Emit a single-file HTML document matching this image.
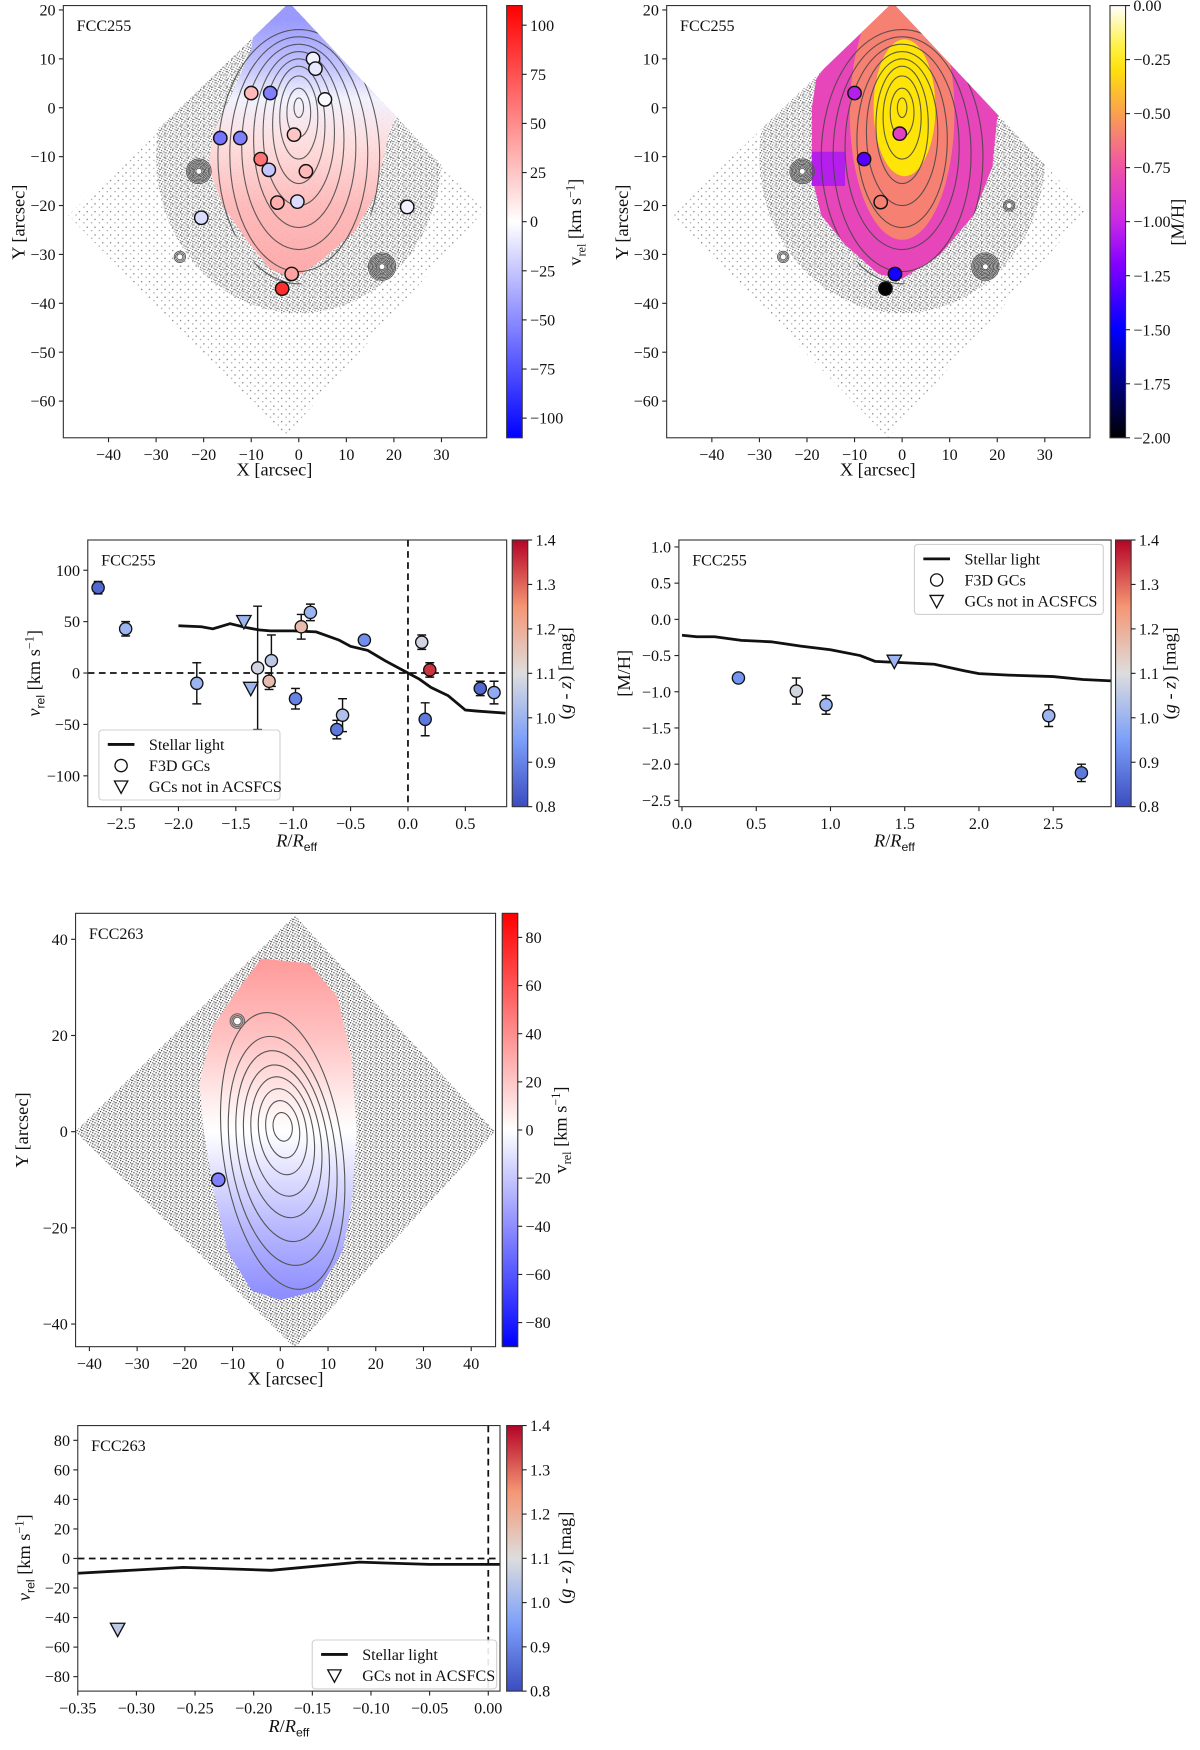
<!DOCTYPE html>
<html><head><meta charset="utf-8"><style>
html,body{margin:0;padding:0;background:#fff;}
svg{display:block;}
text{font-family:"Liberation Serif","DejaVu Serif",serif;fill:#111;}
</style></head><body>
<svg id="fig" xmlns="http://www.w3.org/2000/svg" width="1200" height="1750" viewBox="0 0 1080 1575">
<defs>
<pattern id="dotsLight" patternUnits="userSpaceOnUse" width="7" height="7">
<rect x="1" y="1" width="1" height="1" fill="#555"/><rect x="5" y="4" width="1" height="1" fill="#888"/>
</pattern>
<pattern id="dotsDark" patternUnits="userSpaceOnUse" width="5" height="5">
<rect x="0" y="0" width="1" height="1" fill="#222"/><rect x="2" y="1" width="1" height="1" fill="#444"/><rect x="4" y="2" width="1" height="1" fill="#333"/><rect x="1" y="3" width="1" height="1" fill="#555"/><rect x="3" y="4" width="1" height="1" fill="#222"/><rect x="3" y="2" width="1" height="1" fill="#666"/>
</pattern>
</defs>
</svg>
<script>
// ---------------- DATA ----------------
const mapXTicks=[-40,-30,-20,-10,0,10,20,30];
const mapYTicks=[20,10,0,-10,-20,-30,-40,-50,-60];
const p1CbarTicks=[100,75,50,25,0,-25,-50,-75,-100];
const p2CbarTicks=[0,-0.25,-0.5,-0.75,-1,-1.25,-1.5,-1.75,-2];
const p1GcX=[3,3.5,-10,-6,5.5,-1,-16.5,-12.3,-8,-6.3,1.5,-4.5,-0.3,-20.5,22.8,-1.5,-3.5];
const p1GcY=[10,8,3,3,1.7,-5.5,-6.2,-6.2,-10.5,-12.7,-13,-19.4,-19.2,-22.5,-20.3,-34,-37];
const p1GcV=[-5,-10,30,-55,-2,25,-60,-55,60,-25,30,35,-15,-15,-5,40,90];
const p2GcX=[-10,-0.5,-8,-4.5,-1.5,-3.5];
const p2GcY=[3,-5.3,-10.5,-19.3,-34,-37];
const p2GcM=[-1.05,-0.85,-1.3,-0.6,-1.45,-2.0];
const p3XTicks=[-2.5,-2,-1.5,-1,-0.5,0,0.5];
const p3YTicks=[100,50,0,-50,-100];
const gzTicks=[1.4,1.3,1.2,1.1,1.0,0.9,0.8];
const p3R=[-2.7,-2.46,-1.84,-1.31,-1.19,-1.21,-0.93,-0.85,-0.98,-0.62,-0.57,-0.38,0.12,0.19,0.15,0.63,0.75];
const p3V=[83,43,-10,5,12,-8,45,59,-25,-55,-41,32,30,3,-45,-15,-19];
const p3Err=[6,7,20,60,25,8,12,8,10,9,16,3,7,7,16,7,11];
const p3Col=[0.85,1.0,1.0,1.08,1.05,1.17,1.17,1.0,0.9,0.88,1.03,0.92,1.08,1.35,0.88,0.85,0.98];
const p3TriR=[-1.43,-1.37];
const p3TriV=[50,-15];
const p3TriCol=[1.0,1.0];
const p3LineR=[-2,-1.8,-1.7,-1.55,-1.4,-1.3,-1.2,-1.0,-0.8,-0.6,-0.5,-0.35,-0.2,0,0.1,0.2,0.35,0.5,0.6,0.85];
const p3LineV=[46,45,43,48,44,42,41,41,40,32,26,22,12,0,-6,-14,-22,-36,-37,-39];
const p4XTicks=[0,0.5,1,1.5,2,2.5];
const p4YTicks=[1,0.5,0,-0.5,-1,-1.5,-2,-2.5];
const p4R=[0.38,0.77,0.97,2.47,2.69];
const p4M=[-0.81,-0.99,-1.18,-1.33,-2.12];
const p4Err=[0.02,0.18,0.13,0.15,0.12];
const p4Col=[0.93,1.08,1.0,1.0,0.88];
const p4TriR=[1.43];
const p4TriM=[-0.58];
const p4TriCol=[1.0];
const p4LineR=[0,0.1,0.22,0.4,0.6,0.8,1.0,1.2,1.3,1.5,1.7,1.9,2.0,2.2,2.5,2.7,2.9];
const p4LineM=[-0.22,-0.24,-0.24,-0.29,-0.31,-0.37,-0.42,-0.5,-0.58,-0.6,-0.62,-0.71,-0.75,-0.77,-0.79,-0.83,-0.85];
const p5XTicks=[-40,-30,-20,-10,0,10,20,30,40];
const p5YTicks=[40,20,0,-20,-40];
const p5CbarTicks=[80,60,40,20,0,-20,-40,-60,-80];
const p5GcX=[-13];
const p5GcY=[-10];
const p5GcV=[-45];
const p6XTicks=[-0.35,-0.3,-0.25,-0.2,-0.15,-0.1,-0.05,0];
const p6YTicks=[80,60,40,20,0,-20,-40,-60,-80];
const p6LineR=[-0.35,-0.26,-0.185,-0.11,-0.05,0.01];
const p6LineV=[-10,-6,-8,-2.5,-4,-4];
const p6TriR=[-0.316];
const p6TriV=[-48];
const p6TriCol=[1.05];

// ---------------- HELPERS ----------------
const NS='http://www.w3.org/2000/svg';
const svg=document.getElementById('fig');
function el(tag,attrs,parent){const e=document.createElementNS(NS,tag);for(const k in attrs)e.setAttribute(k,attrs[k]);(parent||svg).appendChild(e);return e;}
function lin(d0,d1,r0,r1){return v=>r0+(v-d0)/(d1-d0)*(r1-r0);}
function interp(stops,t){t=Math.max(0,Math.min(1,t));for(let i=1;i<stops.length;i++){if(t<=stops[i][0]){const a=stops[i-1],b=stops[i];const f=(t-a[0])/(b[0]-a[0]||1);return 'rgb('+[1,2,3].map(j=>Math.round(a[j]+(b[j]-a[j])*f)).join(',')+')';}}const l=stops[stops.length-1];return 'rgb('+l[1]+','+l[2]+','+l[3]+')';}
const BWR=[[0,0,0,255],[0.5,255,255,255],[1,255,0,0]];
const COOL=[[0,59,76,192],[0.25,124,159,249],[0.5,221,221,221],[0.75,245,150,116],[1,180,4,38]];
const GNU=[[0,0,0,0],[0.25,0,0,255],[0.4,130,0,255],[0.5,200,40,230],[0.62,240,80,170],[0.75,250,160,80],[0.87,255,235,0],[1,255,255,255]];
const bwr=(v,m)=>interp(BWR,(v+m)/(2*m));
const cool=v=>interp(COOL,(v-0.8)/0.6);
const gnu=v=>interp(GNU,(v+2)/2);
function fmt(v,d){const s=Math.abs(v).toFixed(d);return (v<0?'\u2212':'')+s;}
let clipId=0;

function makeAxes(box,xd,yd,xticks,yticks,xdec,ydec,name){
  const g=el('g',{});
  
  
  const X=lin(xd[0],xd[1],box.l,box.r),Y=lin(yd[0],yd[1],box.b,box.t);
  const id='clip'+(clipId++);
  const cp=el('clipPath',{id:id},g);
  el('rect',{x:box.l,y:box.t,width:box.r-box.l,height:box.b-box.t},cp);
  const plot=el('g',{'clip-path':'url(#'+id+')'},g);
  
  
  const tg=el('g',{},g);
  
  
  xticks.forEach(v=>{const x=X(v);
    const t=el('line',{x1:x,x2:x,y1:box.b,y2:box.b+4,stroke:'#222','stroke-width':1},tg);
    
    
    const tx=el('text',{x:x,y:box.b+20,'font-size':14.5,'text-anchor':'middle'},tg);
    
    
    tx.textContent=fmt(v,xdec);});
  yticks.forEach(v=>{const y=Y(v);
    const t=el('line',{x1:box.l-4,x2:box.l,y1:y,y2:y,stroke:'#222','stroke-width':1},tg);
    
    
    const tx=el('text',{x:box.l-7,y:y+5,'font-size':14.5,'text-anchor':'end'},tg);
    
    
    tx.textContent=fmt(v,ydec);});
  return {g,plot,X,Y,box};
}
function frame(ax){
  const f=el('rect',{x:ax.box.l,y:ax.box.t,width:ax.box.r-ax.box.l,height:ax.box.b-ax.box.t,fill:'none',stroke:'#333','stroke-width':1},ax.g);
  
  
}
function colorbar(x,t,b,vmin,vmax,cmap,ticks,dec,name){
  const g=el('g',{});
  
  
  const gid='grad'+(clipId++);
  const defs=svg.querySelector('defs');
  const lg=el('linearGradient',{id:gid,x1:0,y1:1,x2:0,y2:0},defs);
  for(let i=0;i<=20;i++){const v=vmin+(vmax-vmin)*i/20;el('stop',{offset:i/20,'stop-color':cmap(v)},lg);}
  const r=el('rect',{x:x,y:t,width:14,height:b-t,fill:'url(#'+gid+')',stroke:'#333','stroke-width':1},g);
  
  
  const Y=lin(vmin,vmax,b,t);
  ticks.forEach(v=>{const y=Y(v);
    const l=el('line',{x1:x+14,x2:x+18,y1:y,y2:y,stroke:'#222'},g);
    
    
    const tx=el('text',{x:x+21,y:y+5,'font-size':14.5},g);
    
    
    tx.textContent=fmt(v,dec);});
  return g;
}
function rotLabel(x,y,html,name){
  const t=el('text',{x:0,y:0,'font-size':16.5,'text-anchor':'middle',transform:'translate('+x+','+y+') rotate(-90)'});
  
  
  t.innerHTML=html;return t;
}
function label(x,y,html,name,size){
  const t=el('text',{x:x,y:y,'font-size':size||16.5,'text-anchor':'middle'});
  
  
  t.innerHTML=html;return t;
}
function panelTag(ax,txt){
  const t=el('text',{x:ax.box.l+12,y:ax.box.t+23,'font-size':14.5},ax.g);
  
  
  t.textContent=txt;
}
function poly(ax,pts,attrs,parent){
  const d=pts.map((p,i)=>(i?'L':'M')+ax.X(p[0]).toFixed(1)+','+ax.Y(p[1]).toFixed(1)).join(' ')+'Z';
  return el('path',Object.assign({d:d},attrs),parent||ax.plot);
}
function tri(x,y,s){return 'M'+(x-s)+','+(y-s*0.85)+' L'+(x+s)+','+(y-s*0.85)+' L'+x+','+(y+s)+' Z';}
function errbar(g,x,y1,y2){
  const l=el('line',{x1:x,x2:x,y1:y1,y2:y2,stroke:'#111','stroke-width':1.3},g);
  
  
  [y1,y2].forEach(y=>{const c=el('line',{x1:x-4,x2:x+4,y1:y,y2:y,stroke:'#111','stroke-width':1.3},g);
    
    });
}
function clipGroup(ax,pts,parent,name){
  const id='pc'+(clipId++);
  const cp=el('clipPath',{id:id},ax.g);
  poly(ax,pts,{},cp);
  const g=el('g',{'clip-path':'url(#'+id+')'},parent);
  
  
  return g;
}

// ---------------- MAP PANEL BUILDER ----------------
const diamond255=[[-2,21.5],[39,-21],[-3,-67.5],[-48.5,-22]];
const contourRx=[1,2.5,4,5.5,7.5,9.5,12,14.5,17];
const contourRy=[2,5,8.5,12,15,18,21,24,26];
const contourCy=[0,-1,-2,-3.5,-5,-6.5,-8,-9.5,-10];
const galaxy255=[[-8,25],[25,8],[19,-5],[16,-18],[12,-25],[5,-31],[-1,-35],[-6,-33],[-11,-27],[-16,-20],[-19,-12],[-18,-5],[-14,3],[-10,12]];
const starX=[-21,17.5,22.5,-25],starY=[-13,-32.5,-20,-30.5],starN=[8,9,3,3];

function base255(ax){
  const did='dclip'+(clipId++);
  const cp=el('clipPath',{id:did},ax.g);
  poly(ax,diamond255,{},cp);
  const dg=el('g',{'clip-path':'url(#'+did+')'},ax.plot);
  
  
  const d=poly(ax,diamond255,{fill:'url(#dotsLight)'},dg);
  
  
  const band=el('ellipse',{cx:ax.X(0),cy:ax.Y(-10),rx:ax.X(30)-ax.X(0),ry:ax.Y(-32)-ax.Y(0),fill:'url(#dotsDark)',opacity:0.75},dg);
  
  
  return dg;
}
function contours(ax,dg,cx){
  const cg=clipGroup(ax,[[-8,25],[26,8],[20,-5],[17,-18],[13,-26],[5,-33],[-1,-37],[-7,-35],[-12,-28],[-17,-21],[-20,-12],[-19,-5],[-15,3],[-11,12]],dg,'isophote-contours');
  for(let i=0;i<contourRx.length;i++){
    const e=el('ellipse',{cx:ax.X(cx),cy:ax.Y(contourCy[i]),rx:ax.X(contourRx[i])-ax.X(0),ry:ax.Y(0)-ax.Y(contourRy[i]),fill:'none',stroke:'#444','stroke-width':1,opacity:0.85},cg);
    
    
  }
}
function stars(ax,dg){
  for(let i=0;i<starX.length;i++){
    for(let k=starN[i];k>=1;k--){
      const c=el('circle',{cx:ax.X(starX[i]),cy:ax.Y(starY[i]),r:1.5+k*1.2,fill:k==1?'#fff':'none',stroke:'#555','stroke-width':0.8},dg);
      
      
    }
  }
}
function gcs(ax,xs,ys,cols,name){
  const g=el('g',{},ax.plot);
  
  
  for(let i=0;i<xs.length;i++){
    const c=el('circle',{cx:ax.X(xs[i]),cy:ax.Y(ys[i]),r:6,fill:cols[i],stroke:'#111','stroke-width':1.3},g);
    
    
  }
}
function vgrad(ax,ys,vs,cmap){
  const gid='vg'+(clipId++);
  const lg=el('linearGradient',{id:gid,gradientUnits:'userSpaceOnUse',x1:0,x2:0,y1:ax.Y(ys[0]),y2:ax.Y(ys[ys.length-1])},svg.querySelector('defs'));
  const y0=ax.Y(ys[0]),y1=ax.Y(ys[ys.length-1]);
  for(let i=0;i<ys.length;i++)el('stop',{offset:(ax.Y(ys[i])-y0)/(y1-y0),'stop-color':cmap(vs[i])},lg);
  return 'url(#'+gid+')';
}

// ---------------- PANEL 1 ----------------
const ax1=makeAxes({l:57,r:438,t:5,b:394},[-49.5,39.5],[-67.5,20.9],mapXTicks,mapYTicks,0,0,'fcc255-velocity-map');
{
  const dg=base255(ax1);
  const f=vgrad(ax1,[18,8,2,-8,-20,-35],[-45,-25,-5,15,30,38],v=>bwr(v,110));
  const gp=poly(ax1,galaxy255,{fill:f,opacity:0.95},dg);
  
  
  contours(ax1,dg,0);stars(ax1,dg);
  gcs(ax1,p1GcX,p1GcY,p1GcV.map(v=>bwr(v,110)),'gc-velocity-markers');
  panelTag(ax1,'FCC255');frame(ax1);
}
colorbar(456,5,394,-110,110,v=>bwr(v,110),p1CbarTicks,0,'velocity-colorbar');
rotLabel(523,200,'v<tspan font-size="11" dy="4">rel</tspan><tspan dy="-4"> [km s</tspan><tspan font-size="11" dy="-6">−1</tspan><tspan dy="6">]</tspan>','velocity-colorbar-label');
label(247,428,'X [arcsec]','x-axis-title');
rotLabel(22,200,'Y [arcsec]','y-axis-title');

// ---------------- PANEL 2 ----------------
const ax2=makeAxes({l:600,r:981,t:5,b:394},[-49.5,39.5],[-67.5,20.9],mapXTicks,mapYTicks,0,0,'fcc255-metallicity-map');
{
  const dg=base255(ax2);
  const pk=poly(ax2,[[-8,25],[27,8],[20,-2],[19,-12],[15,-22],[8,-30],[0,-35],[-5,-34],[-12,-28],[-17,-22],[-19,-14],[-19,0],[-18,6],[-12,14]],{fill:gnu(-0.82)},dg);
  
  
  const pu=poly(ax2,[[-19,-9],[-12,-9],[-12,-16],[-19,-16]],{fill:gnu(-1.05)},dg);
  
  
  const og=clipGroup(ax2,[[-8,25],[27,8],[20,-2],[19,-12],[15,-22],[8,-30],[0,-35],[-5,-34],[-12,-28],[-17,-22],[-19,-14],[-19,0],[-18,6],[-12,14]],dg,'metallicity-mid-group');
  const or=el('ellipse',{cx:ax2.X(0),cy:ax2.Y(-1),rx:ax2.X(11)-ax2.X(0),ry:ax2.Y(0)-ax2.Y(26),fill:gnu(-0.6)},og);
  
  
  const ye=el('ellipse',{cx:ax2.X(0.5),cy:ax2.Y(0),rx:ax2.X(6.5)-ax2.X(0),ry:ax2.Y(0)-ax2.Y(14),fill:gnu(-0.28)},og);
  
  
  contours(ax2,dg,0);stars(ax2,dg);
  gcs(ax2,p2GcX,p2GcY,p2GcM.map(gnu),'gc-metallicity-markers');
  panelTag(ax2,'FCC255');frame(ax2);
}
colorbar(999,5,394,-2,0,gnu,p2CbarTicks,2,'metallicity-colorbar');
rotLabel(1065,200,'[M/H]','metallicity-colorbar-label');
label(790,428,'X [arcsec]','x-axis-title');
rotLabel(565,200,'Y [arcsec]','y-axis-title');

// ---------------- PANEL 3 ----------------
function legend(x,y,w,items,name){
  const g=el('g',{});
  
  
  const r=el('rect',{x:x,y:y,width:w,height:items.length*19+6,rx:3,fill:'#fff',stroke:'#ccc','stroke-width':1,opacity:0.9},g);
  
  
  items.forEach((it,i)=>{const cy=y+13+i*19;
    let m;
    if(it[0]=='line')m=el('line',{x1:x+8,x2:x+32,y1:cy,y2:cy,stroke:'#111','stroke-width':2.5},g);
    else if(it[0]=='circle')m=el('circle',{cx:x+20,cy:cy,r:5.5,fill:'#fff',stroke:'#111','stroke-width':1.2},g);
    else m=el('path',{d:tri(x+20,cy,6),fill:'#fff',stroke:'#111','stroke-width':1.2},g);
    
    
    const t=el('text',{x:x+45,y:cy+5,'font-size':14.5},g);
    
    
    t.textContent=it[1];});
}
const ax3=makeAxes({l:79,r:456,t:486,b:726},[-2.79,0.86],[-130,129.4],p3XTicks,p3YTicks,1,0,'fcc255-velocity-profile');
{
  const X=ax3.X,Y=ax3.Y,g=ax3.plot;
  const h=el('line',{x1:ax3.box.l,x2:ax3.box.r,y1:Y(0),y2:Y(0),stroke:'#111','stroke-width':1.6,'stroke-dasharray':'6,4'},g);
  
  
  const v=el('line',{x1:X(0),x2:X(0),y1:ax3.box.t,y2:ax3.box.b,stroke:'#111','stroke-width':1.6,'stroke-dasharray':'6,4'},g);
  
  
  const pl=el('polyline',{points:p3LineR.map((r,i)=>X(r)+','+Y(p3LineV[i])).join(' '),fill:'none',stroke:'#111','stroke-width':2.5},g);
  
  
  p3R.forEach((r,i)=>errbar(g,X(r),Y(p3V[i]+p3Err[i]),Y(p3V[i]-p3Err[i])));
  p3R.forEach((r,i)=>{const c=el('circle',{cx:X(r),cy:Y(p3V[i]),r:5.5,fill:cool(p3Col[i]),stroke:'#111','stroke-width':1.2},g);
    
    });
  p3TriR.forEach((r,i)=>{const t=el('path',{d:tri(X(r),Y(p3TriV[i]),6.5),fill:cool(p3TriCol[i]),stroke:'#111','stroke-width':1.2},g);
    
    });
  panelTag(ax3,'FCC255');frame(ax3);
}
legend(89,657,163,[['line','Stellar light'],['circle','F3D GCs'],['tri','GCs not in ACSFCS']],'velocity-legend');
colorbar(461,486,726,0.8,1.4,cool,gzTicks,1,'color-colorbar');
rotLabel(514,606,'(<tspan font-style="italic">g</tspan> - <tspan font-style="italic">z</tspan>) [mag]','color-colorbar-label');
label(267,762,'<tspan font-style="italic">R</tspan>/<tspan font-style="italic">R</tspan><tspan font-size="11" dy="4" font-family="Liberation Sans">eff</tspan>','x-axis-title');
rotLabel(36,606,'<tspan font-style="italic">v</tspan><tspan font-size="11" dy="4" font-family="Liberation Sans">rel</tspan><tspan dy="-4"> [km s</tspan><tspan font-size="11" dy="-6">−1</tspan><tspan dy="6">]</tspan>','y-axis-title');

// ---------------- PANEL 4 ----------------
const ax4=makeAxes({l:611,r:1000,t:486,b:726},[-0.021,2.89],[-2.587,1.096],p4XTicks,p4YTicks,1,1,'fcc255-metallicity-profile');
{
  const X=ax4.X,Y=ax4.Y,g=ax4.plot;
  const pl=el('polyline',{points:p4LineR.map((r,i)=>X(r)+','+Y(p4LineM[i])).join(' '),fill:'none',stroke:'#111','stroke-width':2.5},g);
  
  
  p4R.forEach((r,i)=>errbar(g,X(r),Y(p4M[i]+p4Err[i]),Y(p4M[i]-p4Err[i])));
  p4R.forEach((r,i)=>{const c=el('circle',{cx:X(r),cy:Y(p4M[i]),r:5.5,fill:cool(p4Col[i]),stroke:'#111','stroke-width':1.2},g);
    
    });
  p4TriR.forEach((r,i)=>{const t=el('path',{d:tri(X(r),Y(p4TriM[i]),6.5),fill:cool(p4TriCol[i]),stroke:'#111','stroke-width':1.2},g);
    
    });
  panelTag(ax4,'FCC255');frame(ax4);
}
legend(823,490,170,[['line','Stellar light'],['circle','F3D GCs'],['tri','GCs not in ACSFCS']],'metallicity-legend');
colorbar(1004,486,726,0.8,1.4,cool,gzTicks,1,'color-colorbar');
rotLabel(1058,606,'(<tspan font-style="italic">g</tspan> - <tspan font-style="italic">z</tspan>) [mag]','color-colorbar-label');
label(805,762,'<tspan font-style="italic">R</tspan>/<tspan font-style="italic">R</tspan><tspan font-size="11" dy="4" font-family="Liberation Sans">eff</tspan>','x-axis-title');
rotLabel(567,606,'[M/H]','y-axis-title');

// ---------------- PANEL 5 ----------------
const ax5=makeAxes({l:68,r:446,t:822,b:1212},[-42.9,45.1],[-44.7,45.4],p5XTicks,p5YTicks,0,0,'fcc263-velocity-map');
{
  const dia=[[3,45],[45,0],[3,-45],[-43,0]];
  const did='dclip'+(clipId++);
  const cp=el('clipPath',{id:did},ax5.g);
  poly(ax5,dia,{},cp);
  const dg=el('g',{'clip-path':'url(#'+did+')'},ax5.plot);
  
  
  const d=poly(ax5,dia,{fill:'url(#dotsDark)'},dg);
  
  
  const f=vgrad(ax5,[35,20,5,0,-20,-34],[35,22,5,0,-25,-40],v=>bwr(v,90));
  const gal=[[-4,36],[6,35],[12,28],[15,15],[16,0],[15,-15],[13,-25],[8,-33],[0,-35],[-6,-33],[-11,-25],[-14,-12],[-16,0],[-17,10],[-14,22],[-10,28]];
  const gp=poly(ax5,gal,{fill:f},dg);
  
  
  const cg=clipGroup(ax5,gal,dg,'isophote-contours');
  const rx=[2,3.5,5,6.5,8,9.5,11,12.5],ry=[3,6,9,12.5,16,20,24,29],cy=[1,0.5,0,-1,-2,-3,-4,-4];
  for(let i=0;i<rx.length;i++){
    const e=el('ellipse',{cx:ax5.X(0.5),cy:ax5.Y(cy[i]),rx:ax5.X(rx[i])-ax5.X(0),ry:ax5.Y(0)-ax5.Y(ry[i]),fill:'none',stroke:'#555','stroke-width':1,transform:'rotate(-8 '+ax5.X(0.5)+' '+ax5.Y(cy[i])+')'},cg);
    
    
  }
  for(let k=3;k>=1;k--){const c=el('circle',{cx:ax5.X(-9),cy:ax5.Y(23),r:2+k*1.5,fill:k==1?'#fff':'none',stroke:'#666'},dg);
    
    }
  gcs(ax5,p5GcX,p5GcY,p5GcV.map(v=>bwr(v,90)),'gc-velocity-markers');
  panelTag(ax5,'FCC263');frame(ax5);
}
colorbar(452,822,1212,-90,90,v=>bwr(v,90),p5CbarTicks,0,'velocity-colorbar');
rotLabel(510,1017,'v<tspan font-size="11" dy="4">rel</tspan><tspan dy="-4"> [km s</tspan><tspan font-size="11" dy="-6">−1</tspan><tspan dy="6">]</tspan>','velocity-colorbar-label');
label(257,1246,'X [arcsec]','x-axis-title');
rotLabel(25,1017,'Y [arcsec]','y-axis-title');

// ---------------- PANEL 6 ----------------
const ax6=makeAxes({l:70,r:450,t:1283,b:1522},[-0.35,0.01],[-89.8,90],p6XTicks,p6YTicks,2,0,'fcc263-velocity-profile');
{
  const X=ax6.X,Y=ax6.Y,g=ax6.plot;
  const h=el('line',{x1:ax6.box.l,x2:ax6.box.r,y1:Y(0),y2:Y(0),stroke:'#111','stroke-width':1.6,'stroke-dasharray':'6,4'},g);
  
  
  const v=el('line',{x1:X(0),x2:X(0),y1:ax6.box.t,y2:ax6.box.b,stroke:'#111','stroke-width':1.6,'stroke-dasharray':'6,4'},g);
  
  
  const pl=el('polyline',{points:p6LineR.map((r,i)=>X(r)+','+Y(p6LineV[i])).join(' '),fill:'none',stroke:'#111','stroke-width':2.5},g);
  
  
  p6TriR.forEach((r,i)=>{const t=el('path',{d:tri(X(r),Y(p6TriV[i]),6.5),fill:cool(p6TriCol[i]),stroke:'#111','stroke-width':1.2},g);
    
    });
  panelTag(ax6,'FCC263');
}
legend(281,1476,166,[['line','Stellar light'],['tri','GCs not in ACSFCS']],'fcc263-legend');
frame(ax6);
colorbar(456,1283,1522,0.8,1.4,cool,gzTicks,1,'color-colorbar');
rotLabel(514,1402,'(<tspan font-style="italic">g</tspan> - <tspan font-style="italic">z</tspan>) [mag]','color-colorbar-label');
label(260,1559,'<tspan font-style="italic">R</tspan>/<tspan font-style="italic">R</tspan><tspan font-size="11" dy="4" font-family="Liberation Sans">eff</tspan>','x-axis-title');
rotLabel(27,1402,'<tspan font-style="italic">v</tspan><tspan font-size="11" dy="4" font-family="Liberation Sans">rel</tspan><tspan dy="-4"> [km s</tspan><tspan font-size="11" dy="-6">−1</tspan><tspan dy="6">]</tspan>','y-axis-title');
</script>
</body></html>
